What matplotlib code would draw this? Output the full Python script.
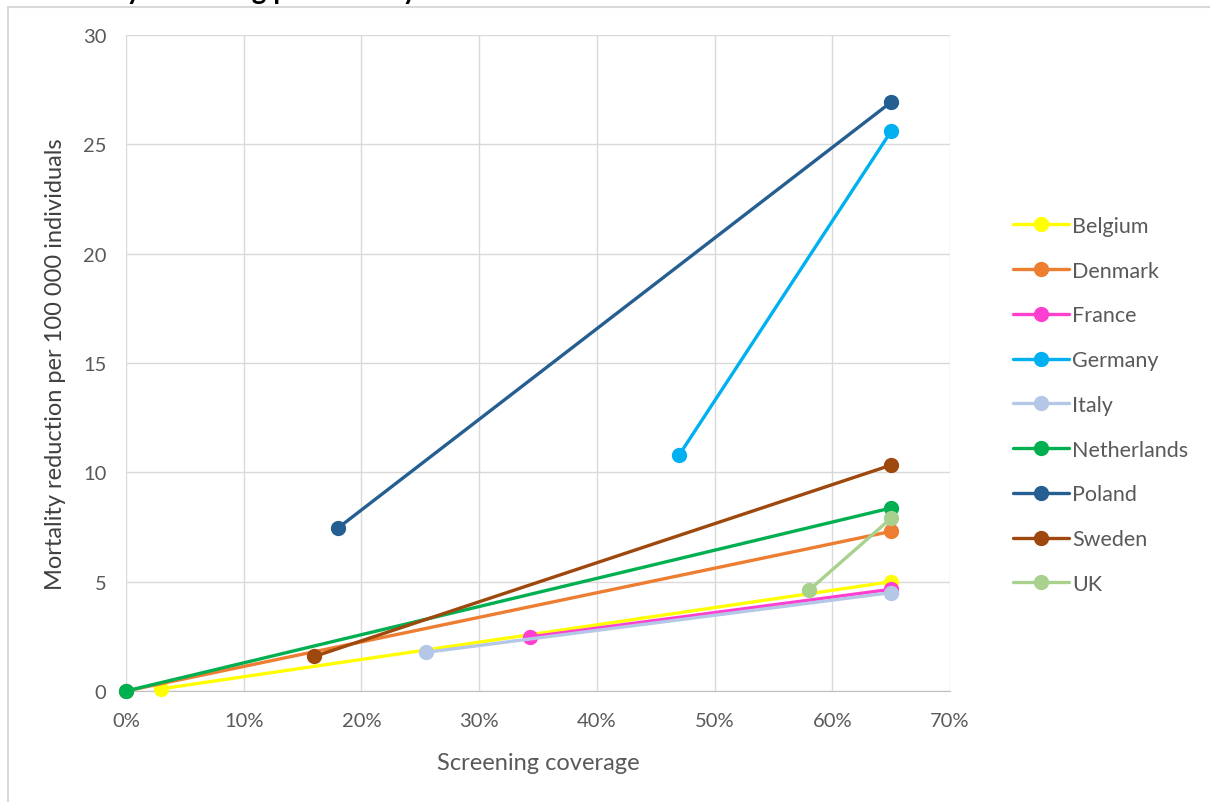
import matplotlib.pyplot as plt
from matplotlib.ticker import FuncFormatter, MultipleLocator
from matplotlib.patches import Rectangle

plt.rcParams["font.family"] = ["Lato", "DejaVu Sans"]

countries = ["Belgium", "Denmark", "France", "Germany", "Italy",
             "Netherlands", "Poland", "Sweden", "UK"]
colors = ["#FFFF00", "#ED7D31", "#FF3FCF", "#00B0F0", "#B4C7E7",
          "#00B050", "#255E91", "#9E480E", "#A9D18E"]

# screening coverage (fraction): current level and target of 65%
coverage = {
    "Belgium": [0.03, 0.65],
    "Denmark": [0.0, 0.65],
    "France": [0.343, 0.65],
    "Germany": [0.47, 0.65],
    "Italy": [0.255, 0.65],
    "Netherlands": [0.0, 0.65],
    "Poland": [0.18, 0.65],
    "Sweden": [0.16, 0.65],
    "UK": [0.58, 0.65],
}
# mortality reduction per 100 000 individuals
reduction = {
    "Belgium": [0.1, 5.0],
    "Denmark": [0.0, 7.3],
    "France": [2.47, 4.65],
    "Germany": [10.8, 25.6],
    "Italy": [1.77, 4.5],
    "Netherlands": [0.0, 8.37],
    "Poland": [7.45, 26.93],
    "Sweden": [1.58, 10.33],
    "UK": [4.6, 7.9],
}

fig = plt.figure(figsize=(12.1, 8.03), dpi=100)
ax = fig.add_axes([126 / 1210, 1 - 692 / 803, (950 - 126) / 1210, (692 - 36) / 803])

# chart-area border (Excel style)
fig.patches.append(Rectangle((8 / 1210, -0.01), 1.0, 1 - 8 / 803 + 0.01,
                             transform=fig.transFigure, fill=False,
                             edgecolor="#D9D9D9", linewidth=1.5))
# title sits mostly above the cropped top edge, as in the reference
fig.text(0.345, 1.011, "Mortality reduction by screening per country",
         fontsize=20, fontweight="bold", va="center", ha="right")

for name, col in zip(countries, colors):
    ax.plot(coverage[name], reduction[name], color=col, linewidth=2.4,
            marker="o", markersize=10, label=name, solid_capstyle="round",
            clip_on=False, zorder=3)

ax.set_xlim(0, 0.70)
ax.set_ylim(0, 30)
ax.xaxis.set_major_locator(MultipleLocator(0.10))
ax.yaxis.set_major_locator(MultipleLocator(5))
ax.xaxis.set_major_formatter(FuncFormatter(lambda v, p: f"{v * 100:.0f}%"))
ax.grid(True, color="#D9D9D9", linewidth=1)
ax.set_axisbelow(True)
for side in ["top", "right", "left"]:
    ax.spines[side].set_visible(False)
ax.spines["bottom"].set_color("#BFBFBF")
ax.tick_params(length=0, labelsize=14.5, labelcolor="#595959")
ax.tick_params(axis="x", pad=15)
ax.tick_params(axis="y", pad=14)

ax.set_xlabel("Screening coverage", fontsize=17, color="#595959", labelpad=17)
ax.set_ylabel("Mortality reduction per 100 000 individuals", fontsize=17,
              color="#404040", labelpad=12)

ax.legend(loc="center left", bbox_to_anchor=(1.053, 0.436), frameon=False,
          fontsize=15.5, labelcolor="#595959", handlelength=2.6,
          handletextpad=0.15, labelspacing=1.15)

fig.savefig("out.png", dpi=100)
